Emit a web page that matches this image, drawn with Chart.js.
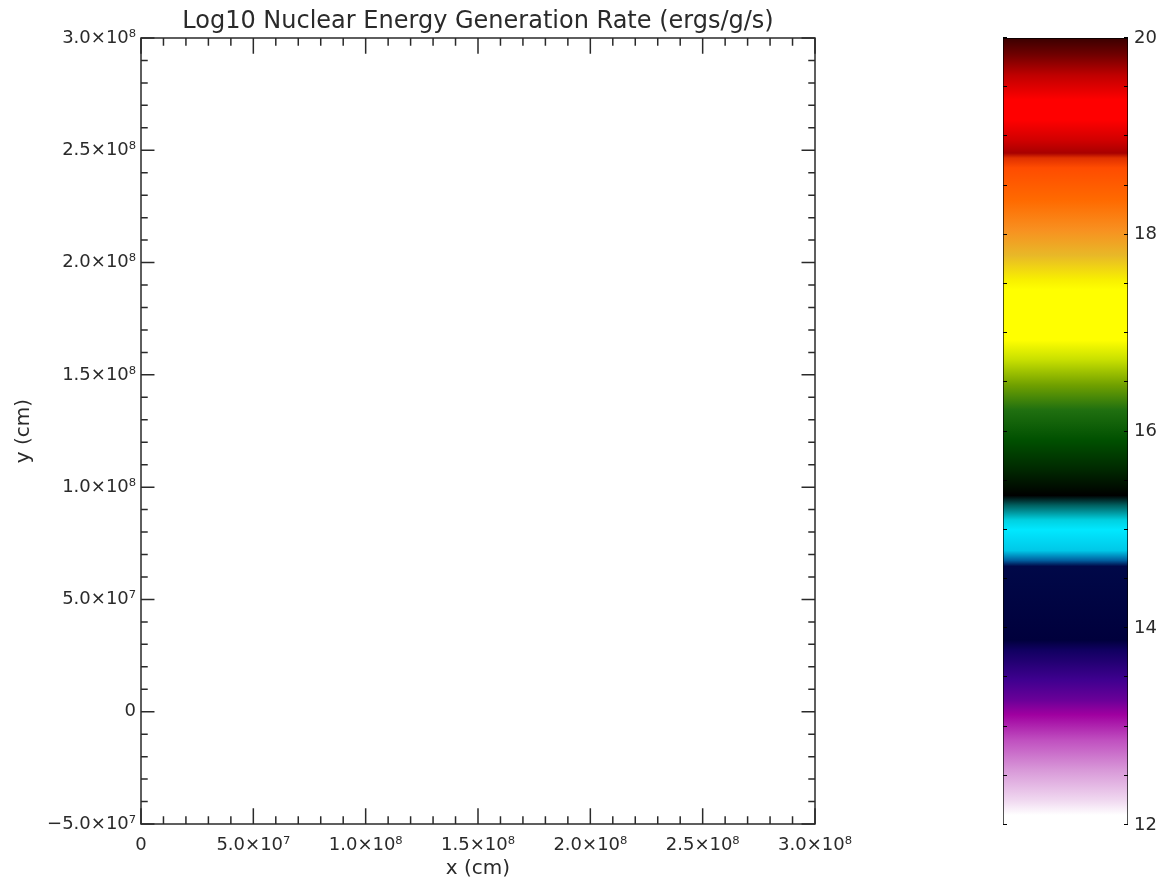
<!DOCTYPE html>
<html>
<head>
<meta charset="utf-8">
<script src="https://cdn.jsdelivr.net/npm/chart.js@4"></script>
<style>
  html, body { margin: 0; padding: 0; background: #fff; }
  #wrap { position: relative; width: 1163px; height: 884px; }
  #main { position: absolute; left: 0; top: 0; }
  #cbar { position: absolute; left: 900px; top: 0; }
</style>
</head>
<body>
<div id="wrap">
  <canvas id="main" width="900" height="884"></canvas>
  <canvas id="cbar" width="263" height="884"></canvas>
</div>
<script>
// axes of the (empty) map
const titleText = 'Log10 Nuclear Energy Generation Rate (ergs/g/s)';
const xMajor = [0, 5e7, 1e8, 1.5e8, 2e8, 2.5e8, 3e8];
const xLabels = ['0', '5.0×10⁷', '1.0×10⁸', '1.5×10⁸', '2.0×10⁸', '2.5×10⁸', '3.0×10⁸'];
const yMajor = [-5e7, 0, 5e7, 1e8, 1.5e8, 2e8, 2.5e8, 3e8];
const yLabels = ['−5.0×10⁷', '0', '5.0×10⁷', '1.0×10⁸', '1.5×10⁸', '2.0×10⁸', '2.5×10⁸', '3.0×10⁸'];

// colour bar: log10 rate stops and their colours
const cbValues = [20.0, 19.83, 19.62, 19.37, 19.17, 18.96, 18.83, 18.78, 18.68, 18.35, 18.05, 17.79, 17.54, 17.44,
                  16.93, 16.73, 16.47, 16.22, 15.91, 15.61, 15.40, 15.35, 15.25, 15.10, 15.00, 14.79, 14.69, 14.63,
                  13.88, 13.78, 13.47, 13.27, 13.12, 12.86, 12.56, 12.25, 12.10, 12.0];
const cbColors = ['#3a0000', '#700000', '#c00000', '#ff0000', '#ff0000', '#d00000', '#a80000', '#e03000', '#ff4c00',
                  '#ff6a00', '#f89020', '#e8b828', '#f8f000', '#ffff00', '#ffff00', '#c8e000', '#70a000', '#207010',
                  '#005000', '#002800', '#000800', '#000000', '#006060', '#00d0e0', '#00e8ff', '#00c8e8', '#0060a0',
                  '#000848', '#00003c', '#100060', '#400090', '#6a0098', '#a000a0', '#c050c0', '#d898d8', '#f0d8f0',
                  '#ffffff', '#ffffff'];
const cbRange = [12, 20];
const cbMajor = [12, 14, 16, 18, 20];

const FONT = 'DejaVu Sans';
const INK = '#2a2a2a';

function labelFor(majors, labels, v) {
  const i = majors.findIndex(m => Math.abs(m - v) < 1e-6 * Math.max(1, Math.abs(m)));
  return i < 0 ? '' : labels[i];
}

// IDL-style box with inward ticks on all four sides, title centred on the plot
const boxTicks = {
  id: 'boxTicks',
  afterDraw(chart) {
    const { ctx, chartArea: a, scales: { x, y } } = chart;
    const h = a.bottom - a.top, w = a.right - a.left;
    ctx.save();
    ctx.strokeStyle = INK;
    ctx.lineWidth = 1.5;
    ctx.strokeRect(a.left, a.top, w, h);
    ctx.beginPath();
    x.ticks.forEach(t => {
      const px = x.getPixelForValue(t.value);
      const len = labelFor(xMajor, xLabels, t.value) !== '' ? 0.02 * h : 0.01 * h;
      ctx.moveTo(px, a.bottom); ctx.lineTo(px, a.bottom - len);
      ctx.moveTo(px, a.top); ctx.lineTo(px, a.top + len);
    });
    y.ticks.forEach(t => {
      const py = y.getPixelForValue(t.value);
      const len = labelFor(yMajor, yLabels, t.value) !== '' ? 0.02 * w : 0.01 * w;
      ctx.moveTo(a.left, py); ctx.lineTo(a.left + len, py);
      ctx.moveTo(a.right, py); ctx.lineTo(a.right - len, py);
    });
    ctx.stroke();
    ctx.fillStyle = INK;
    ctx.font = '24px "' + FONT + '"';
    ctx.textAlign = 'center';
    ctx.textBaseline = 'alphabetic';
    ctx.fillText(titleText, (a.left + a.right) / 2, a.top - 10);
    ctx.restore();
  }
};

new Chart(document.getElementById('main').getContext('2d'), {
  type: 'scatter',
  data: { datasets: [{ data: [] }] },
  options: {
    responsive: false,
    animation: false,
    layout: { padding: { left: 0, right: 85, top: 38, bottom: 0 } },
    plugins: {
      legend: { display: false },
      tooltip: { enabled: false }
    },
    scales: {
      x: {
        type: 'linear',
        min: 0, max: 3e8,
        grid: { display: false, drawTicks: false },
        border: { display: false },
        ticks: {
          stepSize: 1e7, autoSkip: false, maxRotation: 0, padding: 11,
          color: INK, font: { family: FONT, size: 18 },
          callback: v => labelFor(xMajor, xLabels, v)
        },
        title: {
          display: true, text: 'x (cm)', color: INK,
          font: { family: FONT, size: 20 }, padding: { top: 0, bottom: 3 }
        },
        afterFit: s => { s.height = 60; }
      },
      y: {
        type: 'linear',
        min: -5e7, max: 3e8,
        grid: { display: false, drawTicks: false },
        border: { display: false },
        ticks: {
          stepSize: 1e7, autoSkip: false, padding: 5,
          color: INK, font: { family: FONT, size: 18 },
          callback: v => labelFor(yMajor, yLabels, v)
        },
        title: {
          display: true, text: 'y (cm)', color: INK,
          font: { family: FONT, size: 20 }, padding: { top: 12, bottom: 0 }
        },
        afterFit: s => { s.width = 141; }
      }
    }
  },
  plugins: [boxTicks]
});

// colour bar ticks (both edges, inward)
const cbTicks = {
  id: 'cbTicks',
  afterDatasetsDraw(chart) {
    const { ctx, chartArea: a, scales: { y } } = chart;
    ctx.save();
    ctx.strokeStyle = '#000';
    ctx.lineWidth = 1;
    ctx.beginPath();
    y.ticks.forEach(t => {
      const py = Math.round(y.getPixelForValue(t.value)) - 0.5;
      ctx.moveTo(a.left, py); ctx.lineTo(a.left + 4, py);
      ctx.moveTo(a.right, py); ctx.lineTo(a.right - 4, py);
    });
    ctx.stroke();
    ctx.restore();
  }
};

function cbGradient(context) {
  const chart = context.chart;
  const { ctx, chartArea, scales } = chart;
  if (!chartArea) return '#888';
  const y0 = scales.y.getPixelForValue(cbRange[0]);
  const y1 = scales.y.getPixelForValue(cbRange[1]);
  const g = ctx.createLinearGradient(0, y0, 0, y1);
  cbValues.forEach((v, i) => {
    g.addColorStop((v - cbRange[0]) / (cbRange[1] - cbRange[0]), cbColors[i]);
  });
  return g;
}

new Chart(document.getElementById('cbar').getContext('2d'), {
  type: 'bar',
  data: {
    labels: ['log10 rate'],
    datasets: [{
      data: [cbRange],
      backgroundColor: cbGradient,
      borderColor: '#000',
      borderWidth: 1,
      borderSkipped: 'start',
      barPercentage: 1,
      categoryPercentage: 1
    }]
  },
  options: {
    responsive: false,
    animation: false,
    layout: { padding: { left: 103, right: 0, top: 38, bottom: 59 } },
    plugins: { legend: { display: false }, tooltip: { enabled: false } },
    scales: {
      x: { display: false },
      y: {
        position: 'right',
        min: cbRange[0], max: cbRange[1],
        grid: { display: false, drawTicks: false },
        border: { display: false },
        ticks: {
          stepSize: 0.5, autoSkip: false, padding: 6,
          color: INK, font: { family: FONT, size: 18 },
          callback: v => cbMajor.includes(v) ? String(v) : ''
        },
        afterFit: s => { s.width = 35; }
      }
    }
  },
  plugins: [cbTicks]
});
</script>
</body>
</html>
